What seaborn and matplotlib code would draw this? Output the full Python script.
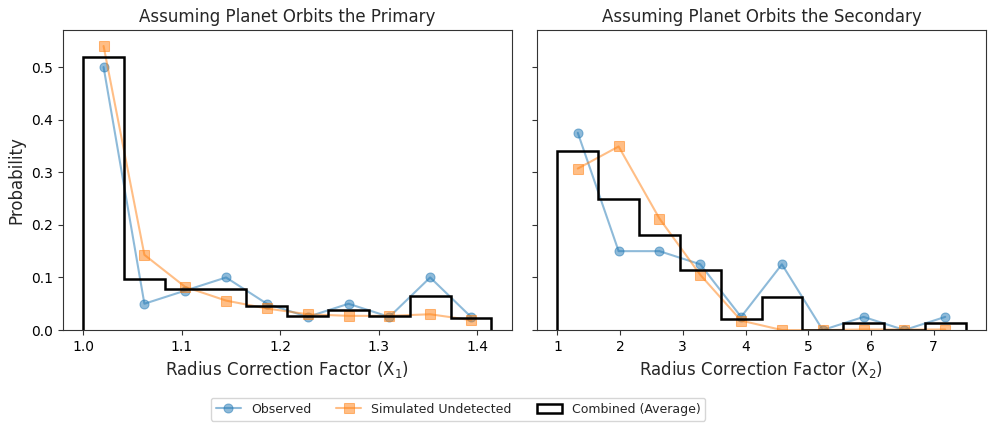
import numpy as np
import seaborn as sns
import matplotlib
matplotlib.use("Agg")
import matplotlib.pyplot as plt

# bin edges (10 bins each)
x1_min, x1_max = 1.0, 1.4142
x2_min, x2_max = 1.0, 7.51

# primary: probabilities per bin
obs_primary = [0.50, 0.05, 0.075, 0.10, 0.05, 0.025, 0.05, 0.025, 0.10, 0.025]
sim_primary = [0.540, 0.143, 0.082, 0.056, 0.041, 0.030, 0.027, 0.027, 0.030, 0.019]

# secondary: probabilities per bin
obs_secondary = [0.375, 0.15, 0.15, 0.125, 0.025, 0.125, 0.0, 0.025, 0.0, 0.025]
sim_secondary = [0.307, 0.349, 0.212, 0.105, 0.018, 0.0, 0.0, 0.001, 0.001, 0.001]

titles = ["Assuming Planet Orbits the Primary", "Assuming Planet Orbits the Secondary"]
xlabels = ["Radius Correction Factor (X$_1$)", "Radius Correction Factor (X$_2$)"]

sns.set_style("ticks", {"xtick.direction": "out", "ytick.direction": "out"})
plt.rcParams["xtick.major.size"] = 3.5
plt.rcParams["ytick.major.size"] = 3.5
plt.rcParams["axes.edgecolor"] = "0.2"
plt.rcParams["xtick.color"] = "0.2"
plt.rcParams["ytick.color"] = "0.2"
plt.rcParams["xtick.labelcolor"] = "black"
plt.rcParams["ytick.labelcolor"] = "black"
plt.rcParams["font.family"] = ["DejaVu Sans"]

fig, axes = plt.subplots(1, 2, figsize=(9.96, 4.32), dpi=100, sharey=True)
fig.subplots_adjust(left=0.063, right=0.99, top=0.93, bottom=0.236, wspace=0.056)

panels = [
    (np.linspace(x1_min, x1_max, 11), obs_primary, sim_primary),
    (np.linspace(x2_min, x2_max, 11), obs_secondary, sim_secondary),
]

for i, (edges, obs, sim) in enumerate(panels):
    ax = axes[i]
    centers = 0.5 * (edges[:-1] + edges[1:])
    obs = np.array(obs)
    sim = np.array(sim)
    comb = (obs + sim) / 2

    sns.lineplot(x=centers, y=obs, marker="o", markersize=6.5, alpha=0.5,
                 color="C0", markeredgecolor="C0", lw=1.5, ax=ax,
                 label="Observed", legend=False)
    sns.lineplot(x=centers, y=sim, marker="s", markersize=6.5, alpha=0.5,
                 color="C1", markeredgecolor="C1", lw=1.5, ax=ax,
                 label="Simulated Undetected", legend=False)
    ax.hist(centers, bins=edges, weights=comb, histtype="step", color="k",
            lw=1.8, label="Combined (Average)")

    ax.set_title(titles[i], fontsize=12)
    ax.set_xlabel(xlabels[i], fontsize=12)
    for s in ax.spines.values():
        s.set_visible(True)

axes[0].set_ylabel("Probability", fontsize=12)
axes[0].set_ylim(0, 0.57)
axes[0].set_xticks([1.0, 1.1, 1.2, 1.3, 1.4])
axes[1].set_xticks([1, 2, 3, 4, 5, 6, 7])
axes[1].tick_params(labelleft=False)

handles, labels = axes[0].get_legend_handles_labels()
fig.legend(handles, labels, loc="center", ncol=3, fontsize=9,
           bbox_to_anchor=(0.46, 0.053), columnspacing=2.0)

fig.savefig("out.png", dpi=100)
